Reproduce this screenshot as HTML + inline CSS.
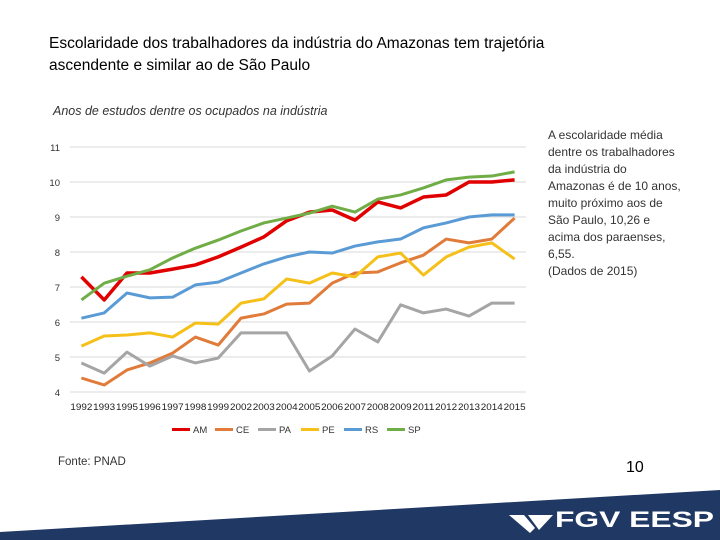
<!DOCTYPE html>
<html><head><meta charset="utf-8"><style>
body{margin:0;width:720px;height:540px;overflow:hidden;background:#fff;font-family:"Liberation Sans",sans-serif;position:relative}
.t{position:absolute;color:#000}
</style></head><body>
<div class="t" style="left:49px;top:33px;font-size:15.5px;line-height:22px">Escolaridade dos trabalhadores da indústria do Amazonas tem trajetória<br>ascendente e similar ao de São Paulo</div>
<div class="t" style="left:53px;top:104px;font-size:12.5px;font-style:italic;color:#333">Anos de estudos dentre os ocupados na indústria</div>
<div class="t" style="left:548px;top:127px;font-size:12px;line-height:17px;color:#333;white-space:nowrap">A escolaridade média<br>dentre os trabalhadores<br>da indústria do<br>Amazonas é de 10 anos,<br>muito próximo aos de<br>São Paulo, 10,26 e<br>acima dos paraenses,<br>6,55.<br>(Dados de 2015)</div>
<div class="t" style="left:58px;top:456px;font-size:11.5px;color:#333">Fonte: PNAD</div>
<div class="t" style="left:626px;top:459px;font-size:16px">10</div>
<svg width="720" height="540" style="position:absolute;left:0;top:0" id="svg">
<polygon points="0,532 720,490 720,540 0,540" fill="#203864"/>
<g>
<polygon points="509,515 524,515 535,528 530,533" fill="#fff"/>
<polygon points="528,515 553,515 539,530" fill="#fff"/>
<text x="555" y="527" font-family="Liberation Sans" font-weight="bold" font-size="22" fill="#fff" textLength="159" lengthAdjust="spacingAndGlyphs">FGV EESP</text>
</g>
<g id="chart"></g>
</svg>
<script>
const years=["1992","1993","1995","1996","1997","1998","1999","2002","2003","2004","2005","2006","2007","2008","2009","2011","2012","2013","2014","2015"];
const yTicks=[4,5,6,7,8,9,10,11];
const AM=[7.29,6.63,7.4,7.4,7.51,7.63,7.86,8.14,8.43,8.89,9.14,9.2,8.91,9.43,9.26,9.57,9.63,10.0,10.0,10.06];
const CE=[4.4,4.2,4.63,4.83,5.11,5.57,5.34,6.11,6.23,6.51,6.54,7.11,7.4,7.43,7.69,7.91,8.37,8.26,8.37,8.97];
const PA=[4.83,4.54,5.14,4.74,5.03,4.83,4.97,5.69,5.69,5.69,4.6,5.03,5.8,5.43,6.49,6.26,6.37,6.17,6.54,6.54];
const PE=[5.31,5.6,5.63,5.69,5.57,5.97,5.94,6.54,6.66,7.23,7.11,7.4,7.29,7.86,7.97,7.34,7.86,8.14,8.26,7.8];
const RS=[6.11,6.26,6.83,6.69,6.71,7.06,7.14,7.4,7.66,7.86,8.0,7.97,8.17,8.29,8.37,8.69,8.83,9.0,9.06,9.06];
const SP=[6.63,7.11,7.31,7.49,7.83,8.11,8.34,8.6,8.83,8.97,9.11,9.31,9.14,9.51,9.63,9.83,10.06,10.14,10.17,10.29];
const seriesNames=["AM","CE","PA","PE","RS","SP"];
const seriesColors=["#e00000","#e07b39","#a5a5a5","#f5c01a","#5b9bd5","#70ad47"];
const seriesData=[AM,CE,PA,PE,RS,SP];
const NS="http://www.w3.org/2000/svg";
const g=document.getElementById('chart');
const x0=70,x1=526,yTop=147,yBot=392;
const xs=i=>x0+(x1-x0)*(i+0.5)/years.length;
const ys=v=>yBot-(v-4)*(yBot-yTop)/7;
function mk(t,a){const e=document.createElementNS(NS,t);for(const k in a)e.setAttribute(k,a[k]);g.appendChild(e);return e;}
yTicks.forEach(v=>{
 const l=mk('line',{x1:x0,x2:x1,y1:ys(v),y2:ys(v),stroke:'#d9d9d9','stroke-width':1});
 
 
 const t=mk('text',{x:60,y:ys(v)+4,'font-size':9.5,'text-anchor':'end','font-family':'Liberation Sans',fill:'#333'});
 t.textContent=v;
 
 
});
years.forEach((y,i)=>{
 const t=mk('text',{x:xs(i),y:410,'font-size':9,'text-anchor':'middle','font-family':'Liberation Sans',fill:'#222',textLength:22,lengthAdjust:'spacingAndGlyphs'});
 t.textContent=y;
 
 
});
seriesData.forEach((d,s)=>{
 const p=mk('polyline',{points:d.map((v,i)=>xs(i)+','+ys(v)).join(' '),fill:'none',stroke:seriesColors[s],'stroke-width':s==0?3.5:3,'stroke-linejoin':'round'});
 
 
 const lx=172+s*43;
 const r=mk('rect',{x:lx,y:428,width:18,height:3,fill:seriesColors[s]});
 
 
 const t=mk('text',{x:lx+21,y:433,'font-size':9.5,'font-family':'Liberation Sans',fill:'#333'});
 t.textContent=seriesNames[s];
 
 
});
</script>
</body></html>
